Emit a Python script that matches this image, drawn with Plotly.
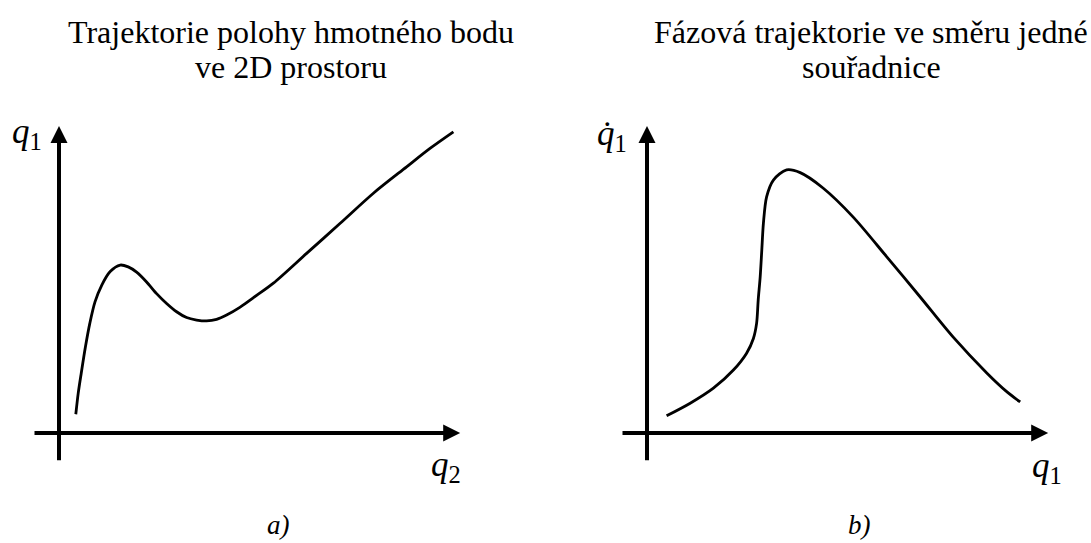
import plotly.graph_objects as go

W, H = 1091, 543

# ---- data (abstract units: origin at axis crossing, axes run 0..10) ----
traj_q2 = [0.42, 0.48, 0.555, 0.66, 0.77, 0.9, 1.07, 1.28, 1.53, 1.73, 1.94, 2.19,
           2.44, 2.69, 2.94, 3.19, 3.44, 3.69, 3.94, 4.19, 4.53, 4.94, 5.36, 6.19,
           7.03, 7.86, 8.69, 9.275, 9.86]
traj_q1 = [0.61, 1.29, 1.94, 2.80, 3.57, 4.27, 4.82, 5.26, 5.47, 5.41, 5.24, 4.92,
           4.54, 4.22, 3.95, 3.76, 3.68, 3.65, 3.70, 3.84, 4.10, 4.48, 4.88, 5.85,
           6.83, 7.81, 8.67, 9.27, 9.81]

phase_q1 = [0.49, 1.08, 1.66, 2.16, 2.49, 2.66, 2.74, 2.78, 2.83, 2.87, 2.91, 2.99,
            3.16, 3.49, 3.83, 4.4, 5.15, 6.0, 6.83, 7.65, 8.5, 9.0, 9.33]
phase_dq1 = [0.56, 0.97, 1.46, 2.05, 2.6, 3.08, 3.57, 4.33, 5.09, 5.96, 6.83, 7.69,
             8.24, 8.57, 8.48, 7.98, 7.04, 5.73, 4.43, 3.13, 1.95, 1.34, 1.01]

titles_a = ["Trajektorie polohy hmotného bodu", "ve 2D prostoru"]
titles_b = ["Fázová trajektorie ve směru jedné", "souřadnice"]
panel_labels = ["<i>a)</i>", "<i>b)</i>"]
axis_labels_a = ["<i>q</i><sub>1</sub>", "<i>q</i><sub>2</sub>"]
axis_labels_b = ["<i>q&#775;</i><sub>1</sub>", "<i>q</i><sub>1</sub>"]

AX_LO_X, AX_HI_X = -0.65, 10.03
AX_LO_Y, AX_HI_Y = -0.94, 10.0

SERIF = "Liberation Serif"

fig = go.Figure()
fig.add_trace(go.Scatter(x=traj_q2, y=traj_q1, mode="lines",
                         line=dict(color="black", width=2.8, shape="spline", smoothing=0.85),
                         xaxis="x", yaxis="y", showlegend=False, hoverinfo="skip"))
fig.add_trace(go.Scatter(x=phase_q1, y=phase_dq1, mode="lines",
                         line=dict(color="black", width=2.8, shape="spline", smoothing=0.85),
                         xaxis="x2", yaxis="y2", showlegend=False, hoverinfo="skip"))

ann = []
for xr, yr in (("x", "y"), ("x2", "y2")):
    ann.append(dict(x=AX_HI_X, y=0, ax=AX_LO_X, ay=0, xref=xr, yref=yr, axref=xr, ayref=yr,
                    showarrow=True, arrowhead=2, arrowsize=0.85, arrowwidth=4,
                    arrowcolor="black", text=""))
    ann.append(dict(x=0, y=AX_HI_Y, ax=0, ay=AX_LO_Y, xref=xr, yref=yr, axref=xr, ayref=yr,
                    showarrow=True, arrowhead=2, arrowsize=0.85, arrowwidth=4,
                    arrowcolor="black", text=""))

def px(xp, yp):
    return xp / W, 1 - yp / H

def text_ann(t, xp, yp, size, xanchor="center"):
    x, y = px(xp, yp)
    return dict(text=t, x=x, y=y, xref="paper", yref="paper", showarrow=False,
                xanchor=xanchor, yanchor="middle",
                font=dict(family=SERIF, size=size, color="black"))

ann.append(text_ann(titles_a[0], 291, 32, 32))
ann.append(text_ann(titles_a[1], 291, 67, 32))
ann.append(text_ann(titles_b[0], 871, 32, 32))
ann.append(text_ann(titles_b[1], 871, 67, 32))
ann.append(text_ann(panel_labels[0], 278, 525, 27))
ann.append(text_ann(panel_labels[1], 859, 525, 27))
ann.append(text_ann(axis_labels_a[0], 27, 133, 35))
ann.append(text_ann(axis_labels_a[1], 446, 466, 35))
ann.append(text_ann(axis_labels_b[0], 612, 135, 35))
ann.append(text_ann(axis_labels_b[1], 1047, 467, 35))

hidden = dict(visible=False, showgrid=False, zeroline=False, fixedrange=True)
fig.update_layout(
    width=W, height=H, margin=dict(l=0, r=0, t=0, b=0),
    paper_bgcolor="white", plot_bgcolor="white",
    xaxis=dict(domain=[0, 545 / W], range=[-59 / 40, (545 - 59) / 40], **hidden),
    yaxis=dict(domain=[0, 1], range=[(433 - 543) / 30.7, 433 / 30.7], **hidden),
    xaxis2=dict(domain=[545 / W, 1], range=[-102 / 40, (1091 - 647) / 40], **hidden),
    yaxis2=dict(domain=[0, 1], range=[(433 - 543) / 30.7, 433 / 30.7], anchor="x2", **hidden),
    annotations=ann,
)

fig.write_html("out.html", config={"displayModeBar": False},
               post_script="document.body.style.margin='0';document.body.style.overflow='hidden';")
